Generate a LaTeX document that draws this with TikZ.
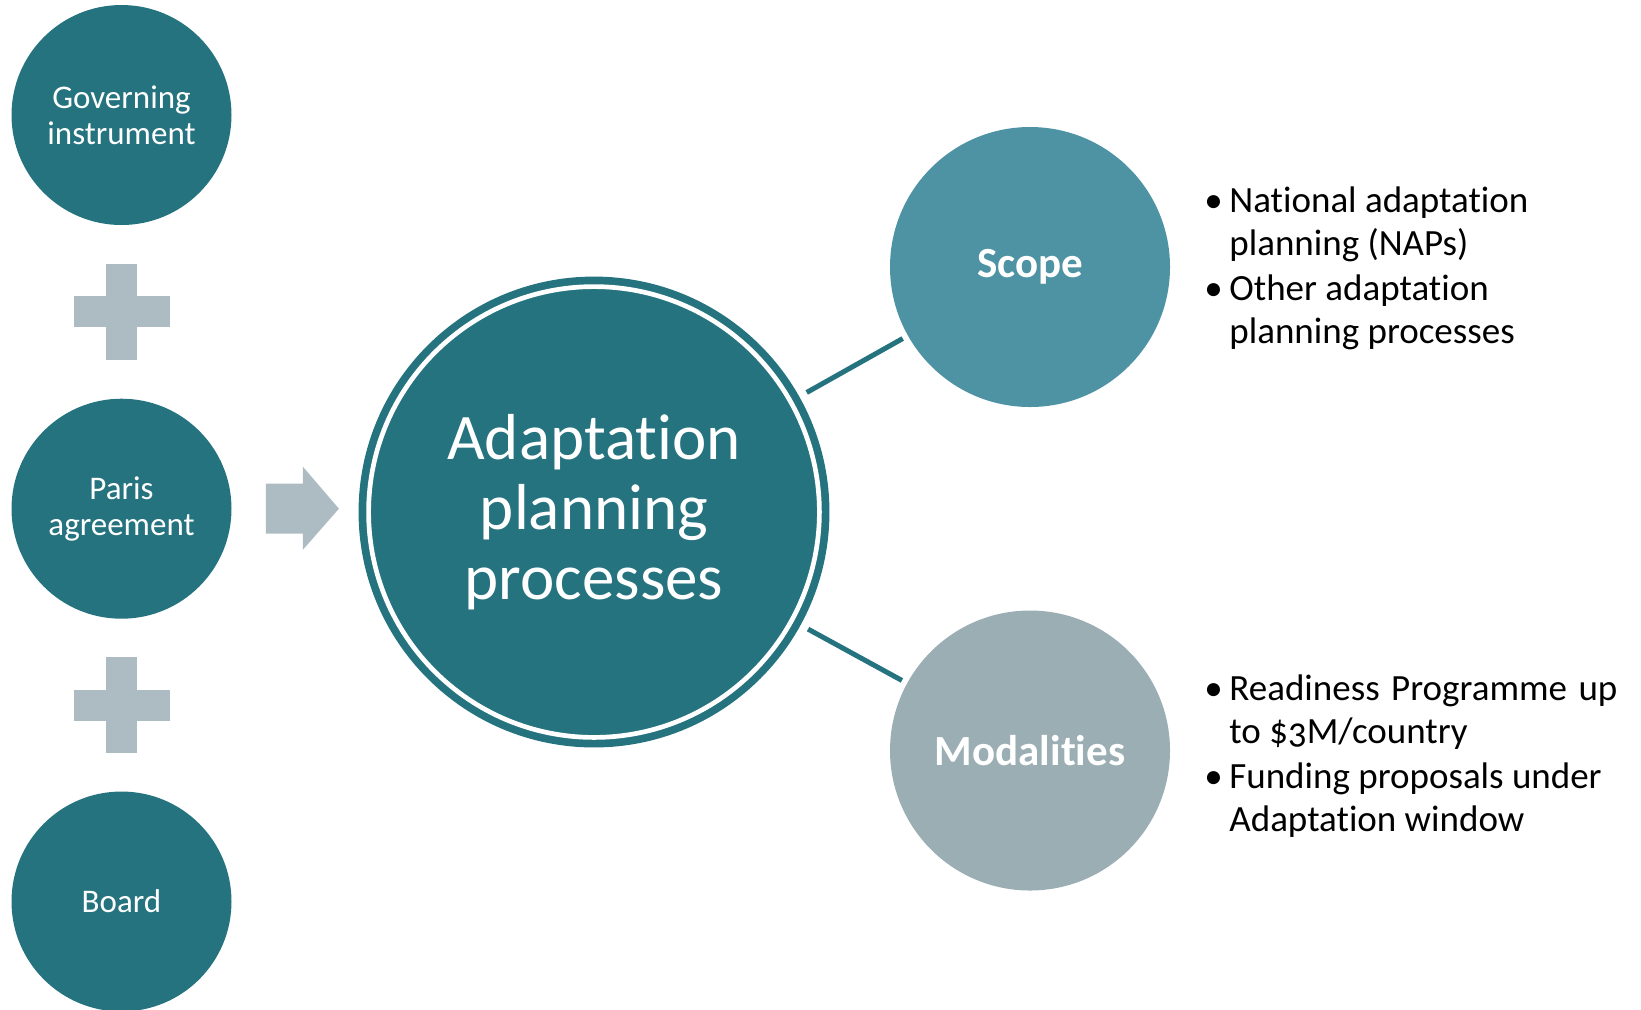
\documentclass[tikz,border=0pt]{standalone}
\usepackage{fontspec}
\setmainfont{Carlito}[Numbers=OldStyle, Ligatures={NoCommon}]
\usepackage{tikz}
\usetikzlibrary{positioning}
\usetikzlibrary{calc}
\definecolor{apteal}{HTML}{25737F}
\definecolor{scopeblue}{HTML}{4E93A3}
\definecolor{modgrey}{HTML}{9AAEB4}
\definecolor{plusgrey}{HTML}{ADBCC2}
\newcommand{\plussign}[1] % #1 = centre of the plus
{\fill[plusgrey] (#1) ++(-48,-15.5) rectangle ++(96,31);
    \fill[plusgrey] (#1) ++(-15.5,-48) rectangle ++(31,96);
}
\newcommand{\fatarrow}[1] % #1 = tail point of the arrow
{\fill[plusgrey] (#1) ++(0,-25) -- ++(37,0) -- ++(0,-17) -- ++(36,42)
    -- ++(-36,41) -- ++(0,-16) -- ++(-37,0) -- cycle;
}
\newcommand{\bpoint}{\makebox[11pt][l]{\hspace*{-1.5pt}\textbullet}}
\newcommand{\bindent}{\hspace*{11pt}}

\begin{document}
\begin{tikzpicture}[x=0.5pt,y=-0.5pt,
        sidecircle/.style={circle, fill=apteal, text=white, inner sep=0pt,
            minimum size=110pt, align=center,
            font=\fontsize{16.5pt}{17.85pt}\selectfont},
        corecircle/.style={circle, fill=apteal, draw=apteal, line width=3.85pt,
            double=white, double distance=2.35pt, outer sep=0pt, inner sep=0pt,
            minimum size=225.4pt, text=white, align=center,
            font=\fontsize{32.5pt}{35pt}\selectfont},
        topiccircle/.style={circle, text=white, inner sep=0pt, outer sep=0pt,
            minimum size=140pt, font=\fontsize{21.5pt}{25pt}\selectfont\bfseries},
        link/.style={draw=apteal, line width=2.5pt, shorten <=9.3pt, shorten >=3pt},
        bullets/.style={anchor=north west, inner sep=0pt, align=left,
            font=\fontsize{18.5pt}{21.5pt}\selectfont},
    ]
    \useasboundingbox (0,0) rectangle (1641,1009);

    \node[sidecircle] (gov) at (121.5,115) {Governing\\instrument};
    \node[sidecircle] (paris) at (121.5,508.7) {Paris\\agreement};
    \node[sidecircle] (board) at (121.5,901.5) {Board};
    \plussign{$(gov)!0.5!(paris)$}
    \plussign{$(paris)!0.5!(board)$}

    \node[corecircle] (core) at (594,512) {Adaptation\\planning\\processes};
    \fatarrow{$(paris.east)+(34,0)$}

    \node[topiccircle, fill=scopeblue] (scope) at (1030,267) {Scope};
    \node[topiccircle, fill=modgrey] (modal) at (1030,750.5) {Modalities};
    \draw[link] (core) -- (scope);
    \draw[link] (core) -- (modal);

    \node[bullets] (scopelist) at (1207,186) {\bpoint National adaptation\\
        \bindent planning (NAPs)\\[1pt]
        \bpoint Other adaptation\\
        \bindent planning processes};
    \node[bullets] (modallist) at (1207,674) {\bpoint \makebox[194pt][s]{Readiness Programme up}\\
        \bindent to \$3M/country\\[1pt]
        \bpoint Funding proposals under\\
        \bindent Adaptation window};
\end{tikzpicture}
\end{document}
